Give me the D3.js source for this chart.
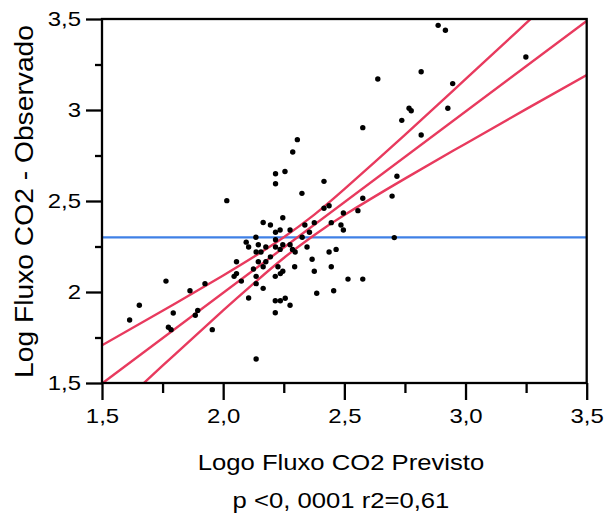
<!DOCTYPE html>
<html>
<head>
<meta charset="utf-8">
<script src="https://cdn.jsdelivr.net/npm/d3@7"></script>
<style>
  html, body { margin: 0; padding: 0; background: #fff; }
  svg { display: block; }
  text { font-family: "Liberation Sans", Arial, sans-serif; fill: #000; }
</style>
</head>
<body>
<svg id="chart" width="609" height="518"></svg>
<script>
// ---- data ----
const predicted = [1.614,1.654,1.764,1.774,1.785,1.794,1.863,1.885,1.895,1.925,1.955,2.015,
  2.045,2.055,2.055,2.075,2.095,2.105,2.105,2.125,2.135,2.136,2.145,2.145,2.136,2.136,2.136,
  2.156,2.165,2.165,2.165,2.176,2.176,2.195,2.195,2.216,2.216,2.216,2.216,2.216,2.215,2.215,
  2.215,2.226,2.235,2.235,2.236,2.236,2.246,2.246,2.246,2.255,2.256,2.276,2.276,2.276,2.286,
  2.287,2.295,2.297,2.306,2.325,2.326,2.337,2.346,2.356,2.367,2.376,2.376,2.386,2.416,2.416,
  2.437,2.437,2.446,2.446,2.456,2.466,2.486,2.496,2.496,2.515,2.556,2.576,2.576,2.576,2.638,
  2.697,2.706,2.717,2.737,2.767,2.776,2.817,2.817,2.887,2.917,2.927,2.947,3.249];
const observed = [1.846,1.927,2.060,1.806,1.793,1.885,2.007,1.872,1.899,2.046,1.793,2.502,
  2.086,2.101,2.166,2.060,2.274,2.247,1.967,2.126,2.301,2.220,2.260,2.166,2.086,2.046,1.632,
  2.220,2.382,2.139,2.020,2.247,2.166,2.368,2.193,2.650,2.595,2.328,2.287,2.247,2.086,1.952,
  1.886,2.139,2.341,2.234,2.101,1.952,2.408,2.260,2.114,2.662,1.966,2.341,2.260,1.927,2.234,
  2.769,2.139,2.220,2.837,2.542,2.301,2.368,2.247,2.328,2.180,2.381,2.114,1.993,2.608,2.460,
  2.474,2.220,2.381,2.139,2.007,2.234,2.368,2.434,2.341,2.071,2.447,2.515,2.071,2.903,3.170,
  2.527,2.299,2.636,2.943,3.010,2.996,3.210,2.863,3.465,3.438,3.010,3.145,3.291];

const meanObserved = 2.30;                       // horizontal reference line
const fitX = [1.5, 3.5];                          // fitted line end points
const fitY = [1.497, 3.489];
const bandX     = [1.5, 1.75, 2.0, 2.125, 2.25, 2.375, 2.5, 2.75, 3.0, 3.25, 3.5];
const bandUpper = [1.707, 1.897, 2.091, 2.192, 2.301, 2.424, 2.565, 2.863, 3.169, 3.477, 3.786];
const bandLower = [1.287, 1.595, 1.899, 2.046, 2.187, 2.312, 2.423, 2.623, 2.815, 3.005, 3.192];

const xTicks = [1.5, 2.0, 2.5, 3.0, 3.5];
const xTickLabels = ["1,5", "2,0", "2,5", "3,0", "3,5"];
const xMinor = [1.75, 2.25, 2.75, 3.25];
const yTicks = [1.5, 2.0, 2.5, 3.0, 3.5];
const yTickLabels = ["1,5", "2", "2,5", "3", "3,5"];
const yMinor = [1.75, 2.25, 2.75, 3.25];

const xTitle = "Logo Fluxo CO2 Previsto";
const yTitle = "Log Fluxo CO2 - Observado";
const note = "p <0, 0001 r2=0,61";

// ---- layout ----
const L = 102, R = 586.7, T = 19, B = 383;
const stretch = 1.14;
const svg = d3.select("#chart");
const x = d3.scaleLinear().domain([1.5, 3.5]).range([L, R]);
const y = d3.scaleLinear().domain([1.5, 3.5]).range([B, T]);

svg.append("defs").append("clipPath").attr("id", "clip")
  .append("rect").attr("x", L).attr("y", T).attr("width", R - L).attr("height", B - T);

const plot = svg.append("g").attr("clip-path", "url(#clip)");

// reference line
plot.append("line")
  .attr("x1", x(1.5)).attr("x2", x(3.5))
  .attr("y1", y(meanObserved)).attr("y2", y(meanObserved))
  .attr("stroke", "#3f80e6").attr("stroke-width", 2.3);

const red = "#e83a5e";
const bandLine = d3.line().x(d => x(d[0])).y(d => y(d[1])).curve(d3.curveNatural);
plot.append("path").datum(bandX.map((v, i) => [v, bandUpper[i]]))
  .attr("d", bandLine).attr("fill", "none").attr("stroke", red).attr("stroke-width", 2.4);
plot.append("path").datum(bandX.map((v, i) => [v, bandLower[i]]))
  .attr("d", bandLine).attr("fill", "none").attr("stroke", red).attr("stroke-width", 2.4);
plot.append("path").datum(fitX.map((v, i) => [v, fitY[i]]))
  .attr("d", d3.line().x(d => x(d[0])).y(d => y(d[1])))
  .attr("fill", "none").attr("stroke", red).attr("stroke-width", 2.4);

// points
plot.selectAll("circle.pt").data(predicted.map((v, i) => [v, observed[i]]))
  .enter().append("circle").attr("class", "pt")
  .attr("cx", d => x(d[0])).attr("cy", d => y(d[1])).attr("r", 2.7).attr("fill", "#000");

// frame
svg.append("rect").attr("x", L).attr("y", T).attr("width", R - L).attr("height", B - T)
  .attr("fill", "none").attr("stroke", "#000").attr("stroke-width", 2.3);

// x axis
const xAxis = d3.axisBottom(x).tickValues(xTicks).tickSize(17)
  .tickFormat((d, i) => xTickLabels[i]).tickPadding(8);
const gx = svg.append("g").attr("transform", `translate(0,${B})`).call(xAxis);
gx.select(".domain").remove();
gx.selectAll(".tick line").attr("stroke-width", 2.3);
gx.selectAll(".tick text").attr("font-size", 21).style("font-family", "Liberation Sans, Arial, sans-serif");
const gxm = svg.append("g").attr("transform", `translate(0,${B})`)
  .call(d3.axisBottom(x).tickValues(xMinor).tickSize(10).tickFormat(""));
gxm.select(".domain").remove();
gxm.selectAll(".tick line").attr("stroke-width", 2.3);

// y axis
const yAxis = d3.axisLeft(y).tickValues(yTicks).tickSize(16)
  .tickFormat((d, i) => yTickLabels[i]).tickPadding(5);
const gy = svg.append("g").attr("transform", `translate(${L},0)`).call(yAxis);
gy.select(".domain").remove();
gy.selectAll(".tick line").attr("stroke-width", 2.3);
gy.selectAll(".tick text").attr("font-size", 21).style("font-family", "Liberation Sans, Arial, sans-serif");
const gym = svg.append("g").attr("transform", `translate(${L},0)`)
  .call(d3.axisLeft(y).tickValues(yMinor).tickSize(7).tickFormat(""));
gym.select(".domain").remove();
gym.selectAll(".tick line").attr("stroke-width", 2.3);

// titles
svg.append("text").attr("class", "xt").attr("x", 341).attr("y", 470)
  .attr("text-anchor", "middle").attr("font-size", 22.5).text(xTitle);
svg.append("text").attr("class", "nt").attr("x", 341).attr("y", 508)
  .attr("text-anchor", "middle").attr("font-size", 22.5).text(note);
svg.append("text").attr("class", "yt")
  .attr("transform", `translate(33,${(25 + 378) / 2}) rotate(-90)`)
  .attr("text-anchor", "middle").attr("font-size", 25.5).text(yTitle);

// horizontal stretch of the original lettering
svg.selectAll("text").each(function () {
  const t = d3.select(this);
  if (t.classed("yt")) return;
  const w = this.getComputedTextLength();
  if (w > 0) t.attr("textLength", w * stretch).attr("lengthAdjust", "spacingAndGlyphs");
});
svg.select("text.yt").attr("textLength", 353).attr("lengthAdjust", "spacingAndGlyphs");
</script>
</body>
</html>
